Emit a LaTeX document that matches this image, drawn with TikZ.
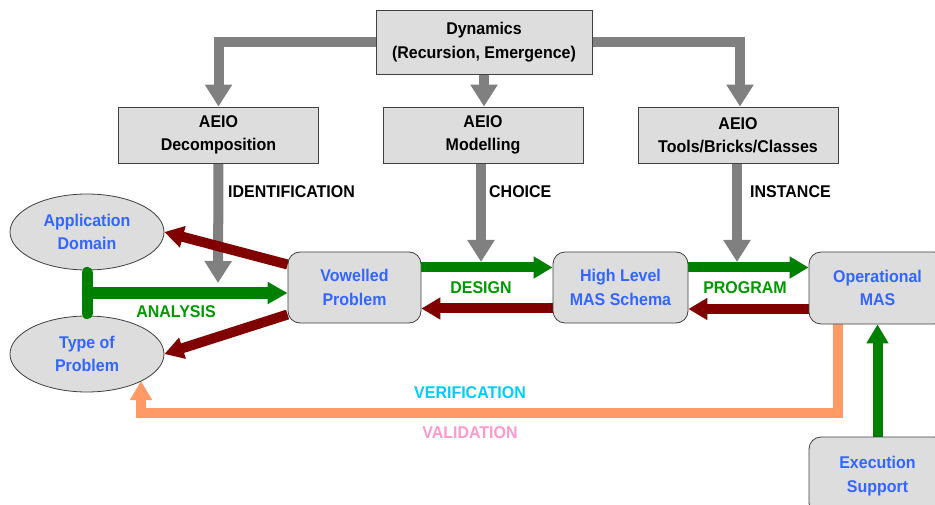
\documentclass[tikz,border=0pt]{standalone}
\usepackage{fontspec}
\setmainfont{Liberation Sans}[FakeStretch=0.94]
\usetikzlibrary{arrows.meta,shapes.geometric,backgrounds}
\definecolor{boxgray}{HTML}{DDDDDD}
\definecolor{arrgray}{HTML}{808080}
\definecolor{txtblue}{HTML}{3366FF}
\definecolor{arrgreen}{HTML}{008000}
\definecolor{txtgreen}{HTML}{009900}
\definecolor{arrred}{HTML}{800000}
\definecolor{arrorange}{HTML}{FF9966}
\definecolor{txtcyan}{HTML}{00CCFF}
\definecolor{txtpink}{HTML}{FF99CC}
\begin{document}
\begin{tikzpicture}[x=1pt,y=-1pt,
  font=\fontsize{17}{23.5}\selectfont\bfseries,
  box/.style={draw=black!75, line width=0.8pt, fill=boxgray, align=center, inner sep=0pt},
  sqbox/.style={box, minimum width=200pt, minimum height=56pt},
  rbox/.style={box, rounded corners=12pt, text=txtblue, minimum height=71pt},
  ellbox/.style={box, ellipse, text=txtblue, minimum width=154pt, minimum height=76pt},
  grayarr/.style={draw=arrgray, line width=10pt, line join=miter, -{Triangle[width=26pt,length=22pt]}},
  greenarr/.style={draw=arrgreen, line width=10pt, -{Triangle[width=21pt,length=19pt]}},
  redarr/.style={draw=arrred, line width=10pt, -{Triangle[width=21pt,length=19pt]}},
  orangearr/.style={draw=arrorange, line width=10pt, line join=miter, -{Triangle[width=21pt,length=19pt]}},
  lbl/.style={inner sep=0pt}
]
\useasboundingbox (0,0) rectangle (935,505);

% nodes
\node[box, minimum width=216pt, minimum height=64pt] (dyn) at (484,42) {Dynamics\\(Recursion, Emergence)};
\node[sqbox] (dec) at (218.5,135) {AEIO\\Decomposition};
\node[sqbox] (mod) at (483,135) {AEIO\\Modelling};
\node[sqbox] (tool) at (738,135) {AEIO\\Tools/Bricks/Classes};

\node[rbox, minimum width=133pt] (vow) at (354.5,287.5) {Vowelled\\Problem};
\node[rbox, minimum width=135pt] (hl) at (620.5,287.5) {High Level\\MAS Schema};
\node[rbox, minimum width=137pt, minimum height=72pt] (op) at (877.5,288) {Operational\\MAS};
\node[rbox, minimum width=137pt, minimum height=78pt] (ex) at (877.5,476) {Execution\\Support};

\node[ellbox] (appd) at (87,232) {Application\\Domain};
\node[ellbox] (typ) at (87,354) {Type of\\Problem};

% labels
\node[lbl, anchor=west] (lid) at (228,192) {IDENTIFICATION};
\node[lbl, anchor=west] (lch) at (489,192) {CHOICE};
\node[lbl, anchor=west] (lin) at (750,192) {INSTANCE};
\node[lbl, text=txtgreen] (lan) at (176,312) {ANALYSIS};
\node[lbl, text=txtgreen] (lde) at (481,288) {DESIGN};
\node[lbl, text=txtgreen] (lpr) at (745,288) {PROGRAM};
\node[lbl, text=txtcyan] (lve) at (470,393) {VERIFICATION};
\node[lbl, text=txtpink] (lva) at (470,433) {VALIDATION};

\coordinate (idend) at (218,283);
\coordinate (chend) at (481,262);
\coordinate (inend) at (737,262);
\coordinate (tj) at (87,293);
\coordinate (oc1) at (838,413);
\coordinate (oc2) at (141,413);
\coordinate (oend) at (141,381);

\begin{scope}[on background layer]
  % gray
  \draw[grayarr] (dyn.west) -| (dec.north);
  \draw[grayarr] (dyn.east) -| ([xshift=2pt]tool.north);
  \draw[grayarr] (dyn.south) -- (dyn.south |- mod.north);
  \draw[grayarr] (dec.south) -- (idend);
  \draw[grayarr] (chend |- mod.south) -- (chend);
  \draw[grayarr] (inend |- tool.south) -- (inend);
  % green
  \draw[greenarr] ([yshift=20pt]vow.east) -- ([yshift=20pt]vow.east -| hl.west);
  \draw[greenarr] ([yshift=20pt]hl.east) -- ([yshift=20pt]hl.east -| op.west);
  \draw[greenarr] (ex.north) -- (op.south);
  \draw[greenarr, line width=12pt, -{Triangle[width=21pt,length=20pt]}] (tj) -- (tj -| vow.west);
  % red
  \draw[redarr] ([yshift=-21pt]op.west) -- ([yshift=-21pt]op.west -| hl.east);
  \draw[redarr] ([yshift=-21pt]hl.west) -- ([yshift=-21pt]hl.west -| vow.east);
  \draw[redarr] ([yshift=23pt]vow.west) -- (appd.east);
  \draw[redarr] ([yshift=-27pt]vow.west) -- (typ.east);
  % orange
  \draw[orangearr] (op.south -| oc1) -- (oc1) -- (oc2) -- (oend);
\end{scope}
\draw[draw=arrgreen, line width=11pt, line cap=round] ([yshift=-2pt]appd.south) -- ([yshift=2pt]typ.north);
\end{tikzpicture}
\end{document}
